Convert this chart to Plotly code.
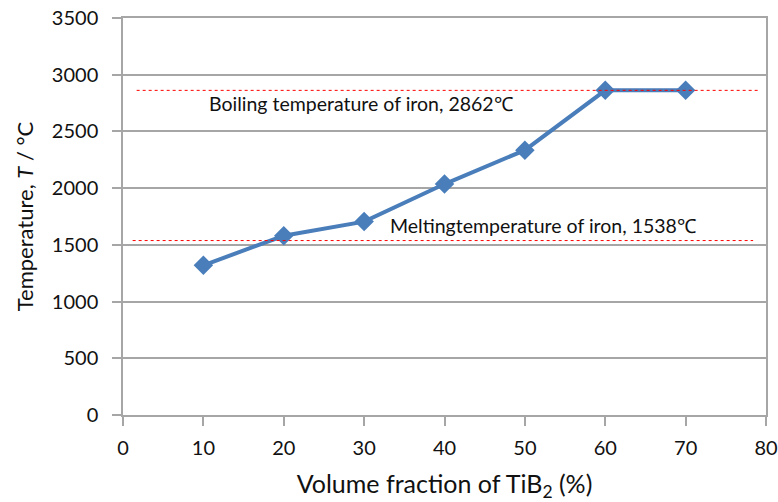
import plotly.graph_objects as go

vol_frac = [10, 20, 30, 40, 50, 60, 70]
temperature = [1320, 1580, 1705, 2036, 2335, 2862, 2862]

boiling_T = 2862
melting_T = 1538
boiling_label = "Boiling temperature of iron, 2862℃"
melting_label = "Meltingtemperature of iron, 1538℃"

x_ticks = [0, 10, 20, 30, 40, 50, 60, 70, 80]
y_ticks = [0, 500, 1000, 1500, 2000, 2500, 3000, 3500]

FONT = "Lato"
BLUE = "#4A7EBB"
GRID = "#A6A6A6"
TXT = "#111"

fig = go.Figure()
fig.add_trace(go.Scatter(
    x=vol_frac, y=temperature, mode="lines+markers",
    line=dict(color=BLUE, width=4),
    marker=dict(symbol="diamond", size=15, color=BLUE),
    showlegend=False,
))

fig.add_shape(type="line", xref="x", yref="y", x0=1.7, x1=79.0, y0=boiling_T, y1=boiling_T,
              line=dict(color="#FF0000", width=1, dash="dot"))
fig.add_shape(type="line", xref="x", yref="y", x0=1.2, x1=78.4, y0=melting_T, y1=melting_T,
              line=dict(color="#FF0000", width=1, dash="dot"))

fig.add_annotation(x=10.4, y=2742, xref="x", yref="y", text=boiling_label, showarrow=False,
                   xanchor="left", yanchor="middle", font=dict(family=FONT, size=19.5, color=TXT))
fig.add_annotation(x=33.0, y=1675, xref="x", yref="y", text=melting_label, showarrow=False,
                   xanchor="left", yanchor="middle", font=dict(family=FONT, size=19.5, color=TXT))

fig.update_xaxes(
    range=[0, 80], tickvals=x_ticks, ticks="outside", ticklen=9, tickcolor=GRID, tickwidth=1.5,
    showline=True, linecolor=GRID, linewidth=1.5, mirror=True, showgrid=False, zeroline=False,
    tickfont=dict(family=FONT, size=20, color=TXT), ticklabelstandoff=5, automargin=False,
    title=dict(text="Volume fraction of TiB<sub>2</sub> (%)", font=dict(family=FONT, size=25, color=TXT), standoff=20),
)
fig.update_yaxes(
    range=[0, 3500], tickvals=y_ticks, ticks="outside", ticklen=9, tickcolor=GRID, tickwidth=2,
    showline=True, linecolor=GRID, linewidth=1.5, mirror=True,
    showgrid=True, gridcolor=GRID, gridwidth=2, zeroline=False,
    tickfont=dict(family=FONT, size=20, color=TXT), ticklabelstandoff=10, automargin=False,
    title=dict(text="Temperature, <i>T</i> / °C", font=dict(family=FONT, size=22, color=TXT), standoff=12),
)

fig.update_layout(
    width=778, height=502,
    margin=dict(l=123, r=12, t=18, b=87),
    paper_bgcolor="white", plot_bgcolor="white",
)

fig.write_html("out.html")
